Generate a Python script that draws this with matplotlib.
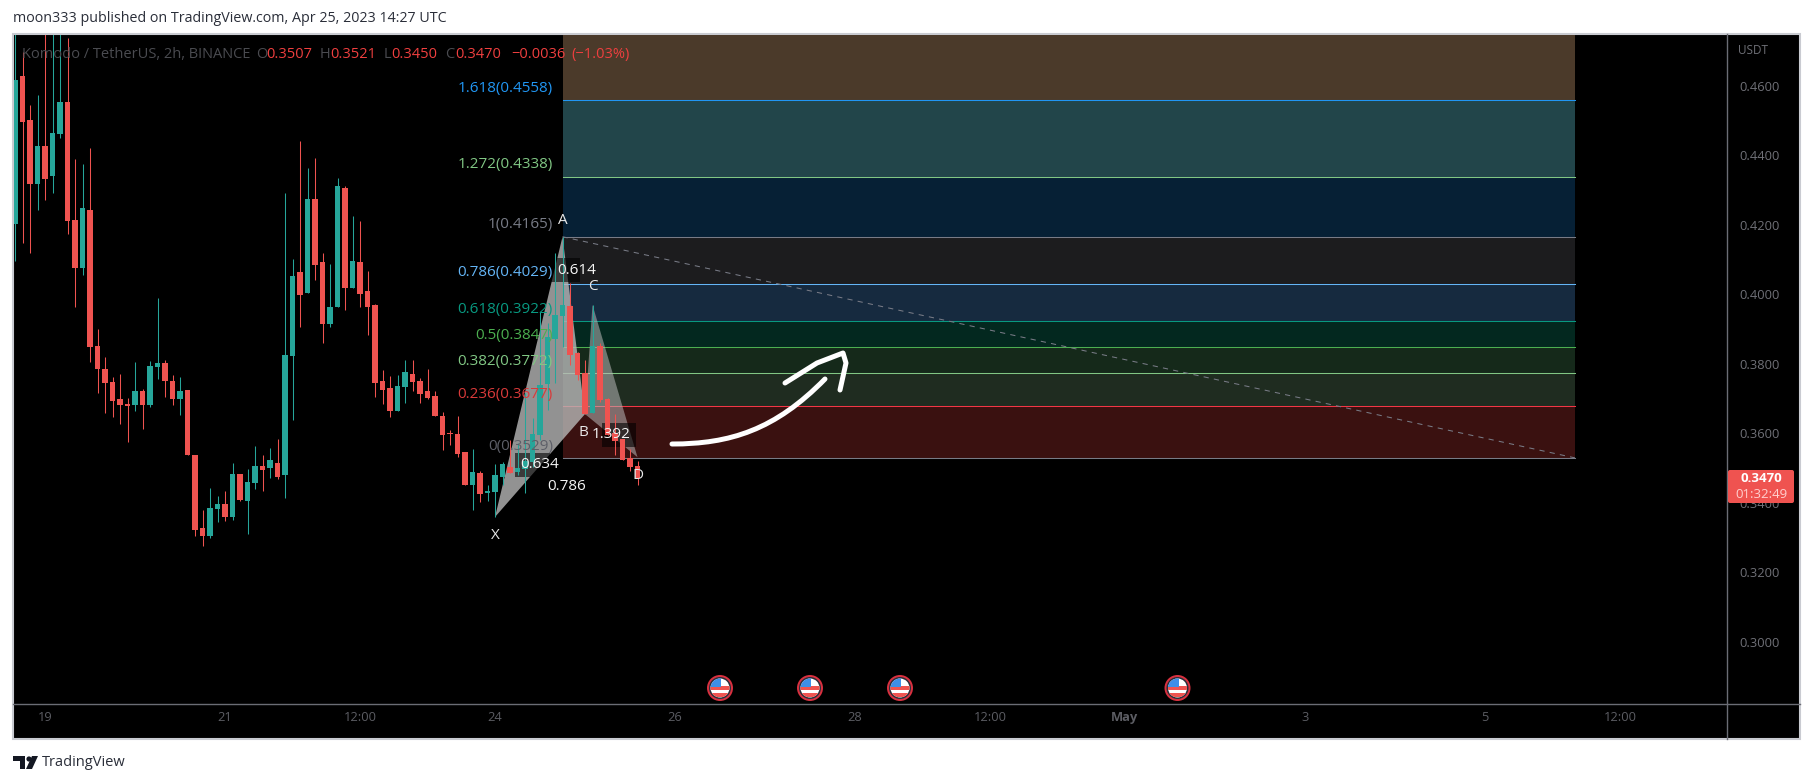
import matplotlib
matplotlib.use("Agg")
import matplotlib.pyplot as plt
from matplotlib.patches import Rectangle, Polygon, Circle, FancyBboxPatch
from matplotlib.path import Path
from matplotlib.patches import PathPatch
import numpy as np

plt.rcParams['font.family'] = ['Open Sans', 'DejaVu Sans']

UP = '#26a69a'
DOWN = '#ef5350'

# candle values
opens = [.4202, .4627, .4501, .4318, .4426, .4341, .4461, .4553, .4213, .4076,
         .4243, .3851, .3785, .3747, .3698, .3684, .3681, .3721, .3681, .3790,
         .3802, .3750, .3698, .3724, .3537, .3327, .3304, .3382, .3396, .3359,
         .3483, .3405, .3457, .3506, .3500, .3514, .3480, .3822, .4063, .4003,
         .4274, .4092, .3914, .3963, .4305, .4018, .4092, .4009, .3969, .3750,
         .3730, .3664, .3733, .3770, .3750, .3721, .3707, .3649, .3600, .3598,
         .3546, .3451, .3485, .3428, .3431, .3474, .3503, .3488, .3497, .3517,
         .3595, .3741, .3871, .3937, .3966, .3831, .3773, .3658, .3851, .3698,
         .3600, .3583, .3529, .3507]
highs = [.4790, .4696, .4544, .4573, .4790, .4790, .4790, .4737, .4389, .4374,
         .4420, .3900, .3819, .3762, .3770, .3701, .3805, .3727, .3808, .3989,
         .3811, .3767, .3762, .3724, .3537, .3379, .3442, .3419, .3433, .3514,
         .3483, .3497, .3563, .3537, .3557, .3583, .4291, .4101, .4440, .4363,
         .4392, .4118, .4087, .4334, .4311, .4225, .4210, .4066, .3972, .3782,
         .3765, .3767, .3811, .3811, .3759, .3785, .3721, .3661, .3609, .3649,
         .3546, .3555, .3491, .3451, .3511, .3517, .3580, .3572, .3716, .3644,
         .3949, .3917, .4118, .4164, .4032, .3834, .3811, .3969, .3859, .3701,
         .3655, .3583, .3555, .3521]
lows = [.4096, .4148, .4119, .4243, .4272, .4292, .4450, .4174, .3964, .4056,
        .3805, .3716, .3658, .3647, .3626, .3575, .3664, .3612, .3675, .3756,
        .3704, .3681, .3652, .3537, .3304, .3276, .3299, .3344, .3347, .3350,
        .3405, .3310, .3439, .3433, .3471, .3468, .3414, .3638, .3905, .4003,
        .4041, .3859, .3905, .3963, .3954, .4018, .3963, .3882, .3704, .3684,
        .3647, .3664, .3687, .3721, .3687, .3698, .3649, .3552, .3566, .3531,
        .3451, .3379, .3402, .3405, .3359, .3451, .3485, .3480, .3428, .3503,
        .3580, .3667, .3744, .3848, .3796, .3753, .3655, .3658, .3690, .3595,
        .3537, .3523, .3491, .3450]
closes = [.4616, .4496, .4318, .4426, .4332, .4463, .4553, .4211, .4076, .4248,
          .3848, .3785, .3744, .3693, .3681, .3678, .3721, .3681, .3793, .3802,
          .3750, .3698, .3721, .3537, .3322, .3304, .3385, .3396, .3359, .3483,
          .3408, .3460, .3506, .3494, .3523, .3474, .3825, .4052, .3998, .4274,
          .4084, .3914, .3963, .4311, .4018, .4095, .4000, .3963, .3744, .3724,
          .3664, .3736, .3776, .3747, .3713, .3701, .3649, .3595, .3598, .3540,
          .3451, .3488, .3425, .3433, .3480, .3511, .3485, .3500, .3520, .3598,
          .3739, .3877, .3940, .3969, .3825, .3767, .3655, .3851, .3696, .3595,
          .3577, .3523, .3503, .3470]

fib_ratios = ['0', '0.236', '0.382', '0.5', '0.618', '0.786', '1', '1.272', '1.618']
fib_prices = [.3529, .3677, .3772, .3847, .3922, .4029, .4165, .4338, .4558]
fib_lines = ['#787b86', '#f23645', '#81c784', '#4caf50', '#089981', '#64b5f6', '#787b86', '#81c784', '#2196f3']
fib_bands = ['#3a1110', '#1f2c20', '#15291a', '#03281f', '#162a3f', '#1c1c1e', '#062035', '#22454a', '#4b3a2a']
fib_text = ['#5d5f68', '#d93a3a', '#81c784', '#4caf50', '#089981', '#64b5f6', '#787b86', '#81c784', '#2196f3']

# harmonic pattern: candle position, price
pat_x = [64, 73, 76.0, 77, 83]
pat_y = [.3359, .4165, .3655, .3969, .3531]
pat_names = ['X', 'A', 'B', 'C', 'D']
pat_ratios = ['0.614', '0.634', '0.786', '1.392']
ratio_x = [74.9, 70, 73.5, 79.5]
ratio_y = [.4069, .3509, .3448, .3595]
box_x = [73, 69, 73.5, 80.5]

price_ticks = [.46, .44, .42, .40, .38, .36, .34, .32, .30]
time_pos = [4, 28, 46, 64, 88, 112, 130, 148, 172, 196, 214]
time_labels = ['19', '21', '12:00', '24', '26', '28', '12:00', 'May', '3', '5', '12:00']
event_pos = [94, 106, 118, 155]

W, H = 1814, 783
fig = plt.figure(figsize=(W / 100, H / 100), dpi=100, facecolor='white')

# pixel overlay used for chrome
px = fig.add_axes([0, 0, 1, 1], zorder=0)
px.set_xlim(0, W)
px.set_ylim(H, 0)
px.axis('off')
px.add_patch(Rectangle((13, 34), 1787, 705, fc='black', ec='#c9cbd1', lw=1.5))
px.plot([1727, 1727], [34, 739], color='#6b6d75', lw=1)
px.plot([13, 1800], [704, 704], color='#6b6d75', lw=1)

left, right, top, bottom = 14, 1727, 35, 704
ax = fig.add_axes([left / W, 1 - bottom / H, (right - left) / W, (bottom - top) / H], zorder=1)
ax.set_facecolor('none')
for s in ax.spines.values():
    s.set_visible(False)
ax.set_xlim((left - 15) / 7.5, (right - 15) / 7.5)
ax.set_ylim(.48459 - .0002876 * bottom, .48459 - .0002876 * top)

# fibonacci box
x0, x1 = 73, 208
levels = fib_prices + [.4800]
for i in range(len(fib_prices)):
    ax.add_patch(Rectangle((x0, levels[i]), x1 - x0, levels[i + 1] - levels[i],
                           fc=fib_bands[i], ec='none', zorder=1))
    ax.plot([x0, x1], [fib_prices[i]] * 2, color=fib_lines[i], lw=.75, zorder=2)
    ax.annotate(f'{fib_ratios[i]}({fib_prices[i]:.4f})', (x0, fib_prices[i]),
                xytext=(-7, 8.5), textcoords='offset points', ha='right', va='center',
                color=fib_text[i], fontsize=11, zorder=6)
ax.plot([x0, x1], [.4165, .3529], color='#787b86', lw=.75, ls=(0, (5, 5)), zorder=3)

# pattern triangles
gray = '#b8b8b8'
ax.add_patch(Polygon(list(zip(pat_x[:3], pat_y[:3])), fc=gray, ec='none', alpha=.8, zorder=3))
ax.add_patch(Polygon(list(zip(pat_x[2:], pat_y[2:])), fc=gray, ec='none', alpha=.55, zorder=3))

# dark boxes behind the ratio texts
for bx, by in zip(box_x, ratio_y):
    ax.add_patch(Rectangle((bx - 2.3, by - .0035), 4.6, .0070, fc='black', ec='none', alpha=.6, zorder=3.5))

# candles
xs = np.arange(len(opens))
colors = [UP if c >= o else DOWN for o, c in zip(opens, closes)]
ax.vlines(xs, lows, highs, colors=colors, lw=.75, zorder=4)
ax.bar(xs, np.abs(np.array(closes) - np.array(opens)), bottom=np.minimum(opens, closes),
       width=.68, color=colors, zorder=5, linewidth=0)

# pattern labels
offs = [(0, -13), (0, 12), (-1, -13), (0, 13.5), (0, -13)]
for i in range(5):
    ax.annotate(pat_names[i], (pat_x[i], pat_y[i]), xytext=offs[i], textcoords='offset points',
                ha='center', va='center', color='#e8e8e8', fontsize=11, zorder=7)
for t, rx, ry in zip(pat_ratios, ratio_x, ratio_y):
    ax.text(rx, ry, t, ha='center', va='center', color='#f4f4f4', fontsize=11, zorder=7)

# axes text
ax.yaxis.tick_right()
ax.set_yticks(price_ticks, [f'{p:.4f}' for p in price_ticks])
ax.set_xticks(time_pos, time_labels)
ax.tick_params(axis='y', length=0, pad=9, labelsize=9.3, labelcolor='#6f7077')
ax.tick_params(axis='x', length=0, pad=5, labelsize=9.3, labelcolor='#5c5d63')
ax.get_xticklabels()[7].set_fontweight('bold')

# hand drawn arrow
body = Path([(672, 444), (730, 444), (775, 430), (825, 379)],
            [Path.MOVETO, Path.CURVE4, Path.CURVE4, Path.CURVE4])
px2 = fig.add_axes([0, 0, 1, 1], zorder=2)
px2.set_xlim(0, W)
px2.set_ylim(H, 0)
px2.axis('off')
px2.patch.set_alpha(0)
px2.add_patch(PathPatch(body, fc='none', ec='white', lw=3.6, capstyle='round'))
px2.plot([785, 817, 843, 846, 840], [383, 363, 353, 363, 390], color='white', lw=3.6,
         solid_capstyle='round', solid_joinstyle='round')

# event flags
for p in event_pos:
    cx = 15 + 7.5 * p
    cy = 688
    px2.add_patch(Circle((cx, cy), 13, fc='#d8303f', ec='none'))
    px2.add_patch(Circle((cx, cy), 11, fc='#2a2e39', ec='none'))
    px2.add_patch(Circle((cx, cy), 9.5, fc='white', ec='none'))
    clip = Circle((cx, cy), 9.5, transform=px2.transData)
    for sy, c in [(-2, '#ef5350'), (5, '#ef5350')]:
        r = Rectangle((cx - 10, cy + sy), 20, 3.5, fc=c, ec='none')
        px2.add_patch(r)
        r.set_clip_path(clip)
    r = Rectangle((cx - 10, cy - 10), 11, 9, fc='#3d8fe8', ec='none')
    px2.add_patch(r)
    r.set_clip_path(clip)

# price tag
px2.add_patch(FancyBboxPatch((1728, 470), 66, 33, boxstyle='round,pad=0,rounding_size=2', fc=DOWN, ec='none'))
px2.text(1761, 479, '0.3470', color='white', fontsize=9.5, fontweight='bold', ha='center', va='center')
px2.text(1761, 495, '01:32:49', color='#ffd0cf', fontsize=9.5, ha='center', va='center')
px2.text(1738, 50, 'USDT', color='#6f7077', fontsize=8.5, ha='left', va='center')

# legend line
parts = [('Komodo / TetherUS, 2h, BINANCE', '#4a4b50', 22), ('O', '#4a4b50', 256), ('0.3507', '#ef3f3f', 266),
         ('H', '#4a4b50', 320), ('0.3521', '#ef3f3f', 330), ('L', '#4a4b50', 384), ('0.3450', '#ef3f3f', 391),
         ('C', '#4a4b50', 445), ('0.3470', '#ef3f3f', 455), ('\u22120.0036', '#ef3f3f', 511), ('(\u22121.03%)', '#ef3f3f', 571)]
for t, c, tx in parts:
    px2.text(tx, 54.5, t, color=c, fontsize=10.5, ha='left', va='center')

# header and footer
px2.text(13, 19, 'moon333 published on TradingView.com, Apr 25, 2023 14:27 UTC', color='#2a2e39',
         fontsize=10.3, ha='left', va='center')
px2.add_patch(Polygon([(13, 756), (25, 756), (25, 769), (20, 769), (20, 761), (13, 761)], fc='#131722', ec='none'))
px2.add_patch(Circle((29, 759), 2.6, fc='#131722', ec='none'))
px2.add_patch(Polygon([(32, 756), (38, 756), (32, 769), (26, 769)], fc='#131722', ec='none'))
px2.text(42, 762, 'TradingView', color='#2a2e39', fontsize=10.5, ha='left', va='center')

fig.savefig('out.png', dpi=100, facecolor='white')
